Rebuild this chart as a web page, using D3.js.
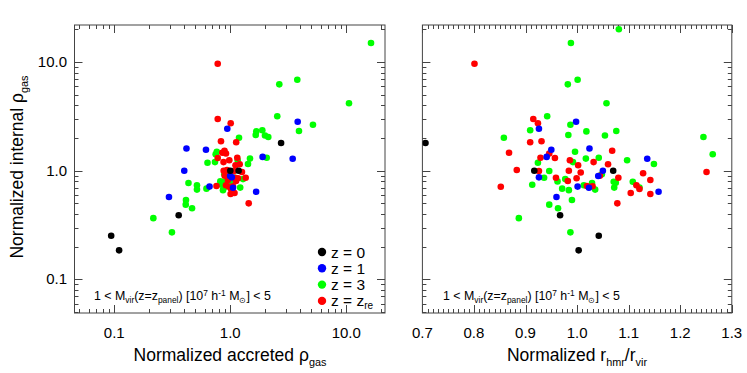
<!DOCTYPE html>
<html><head><meta charset="utf-8">
<script src="https://cdn.jsdelivr.net/npm/d3@7"></script>
<style>body{margin:0;background:#fff}svg{display:block}text{font-family:"Liberation Sans",Arial,Helvetica,sans-serif;fill:#000}</style>
</head><body>
<svg id="c" width="747" height="373"></svg>
<script>
// ---- data ----
const blackAccreted = [2.74, 1.0, 1.18, 0.359, 0.094, 0.110];
const blackInternal = [1.80, 1.0, 1.0, 0.389, 0.252, 0.185];
const blackRhmr     = [0.706, 0.917, 1.07, 0.967, 1.042, 1.003];

const blueAccreted = [3.81, 0.942, 0.419, 0.617, 1.90, 3.45, 0.401, 0.997, 1.03, 0.662, 1.055, 1.67, 0.296];
const blueInternal = [2.82, 2.43, 1.60, 1.56, 1.34, 1.29, 1.0, 0.894, 0.869, 0.714, 0.697, 0.641, 0.573];
const blueRhmr     = [0.998, 0.926, 1.024, 0.950, 0.941, 1.136, 1.050, 1.041, 0.926, 1.001, 1.023, 1.158, 0.960];

const greenAccreted = [25, 16.33, 3.78, 2.645, 10.55, 2.54, 5.16, 1.888, 3.91, 1.675, 1.656, 1.991, 2.126, 1.189, 0.765, 0.748, 2.06, 1.478, 1.158, 0.738, 0.636, 1.421, 1.055, 0.888, 1.098, 1.287, 0.820, 0.870, 0.969, 1.014, 0.436, 0.843, 0.516, 0.882, 1.217, 0.623, 0.516, 0.865, 0.415, 0.413, 0.468, 0.217, 0.314];
const greenInternal = [20.0, 14.96, 6.87, 6.23, 4.17, 3.17, 2.645, 2.353, 2.318, 2.299, 2.13, 2.108, 2.042, 2.012, 1.495, 1.415, 1.314, 1.292, 1.249, 1.2, 1.182, 1.152, 0.994, 0.929, 0.862, 0.837, 0.797, 0.792, 0.792, 0.775, 0.770, 0.743, 0.734, 0.699, 0.699, 0.684, 0.670, 0.662, 0.538, 0.487, 0.451, 0.366, 0.271];
const greenRhmr     = [1.081, 0.988, 1.001, 0.982, 1.057, 0.942, 0.987, 0.909, 1.076, 1.018, 0.983, 1.054, 1.245, 0.858, 0.996, 1.263, 1.042, 1.017, 1.097, 0.992, 0.924, 1.149, 0.946, 1.048, 0.936, 0.977, 0.962, 1.071, 1.108, 1.075, 1.029, 0.913, 1.013, 1.072, 1.121, 0.971, 1.035, 0.984, 0.990, 0.946, 0.963, 0.887, 0.987];

const redAccreted = [0.779, 0.779, 1.008, 0.831, 1.124, 0.891, 0.853, 0.918, 1.149, 0.779, 0.980, 0.874, 1.205, 1.109, 0.937, 0.877, 1.076, 1.26, 0.974, 0.913, 0.895, 1.091, 1.357, 1.165, 0.955, 1.12, 0.918, 0.760, 1.054, 0.974, 1.015, 1.087, 1.006, 1.441];
const redInternal = [9.65, 2.99, 2.73, 1.864, 1.825, 1.524, 1.464, 1.439, 1.317, 1.309, 1.246, 1.2, 1.148, 1.124, 1.015, 1.0, 0.994, 0.973, 0.963, 0.946, 0.899, 0.862, 0.860, 0.851, 0.821, 0.804, 0.734, 0.723, 0.719, 0.712, 0.679, 0.623, 0.610, 0.501];
const redRhmr     = [0.801, 0.915, 0.924, 0.931, 0.909, 1.068, 0.868, 0.946, 0.929, 0.957, 0.986, 1.032, 1.060, 1.002, 0.883, 0.984, 0.926, 1.251, 1.007, 1.128, 1.044, 0.959, 1.080, 0.999, 1.142, 0.982, 1.115, 1.019, 1.030, 0.852, 1.121, 1.104, 1.142, 1.078];

const logTickValues = [0.1, 1, 10];
const logTickLabels = ["0.1", "1.0", "10.0"];
const linTickValues = [0.7, 0.8, 0.9, 1.0, 1.1, 1.2, 1.3];
const linTickLabels = ["0.7", "0.8", "0.9", "1.0", "1.1", "1.2", "1.3"];
const legendLabels = ["0", "1", "3", "re"];
const seriesColors = ["#000000", "#0000ff", "#00ff00", "#ff0000"];

// ---- build ----
const series = [
  {acc: blackAccreted, int: blackInternal, r: blackRhmr, color: seriesColors[0]},
  {acc: blueAccreted, int: blueInternal, r: blueRhmr, color: seriesColors[1]},
  {acc: greenAccreted, int: greenInternal, r: greenRhmr, color: seriesColors[2]},
  {acc: redAccreted, int: redInternal, r: redRhmr, color: seriesColors[3]}
];
const drawOrder = [2, 3, 1, 0];

const svg = d3.select("#c");
const L = {x0: 74.5, x1: 385, y0: 25, y1: 313};
const R = {x0: 422.4, x1: 731.8, y0: 25, y1: 313};

const xL = d3.scaleLog().domain([Math.pow(10, (74.5 - 230.3) / 116), Math.pow(10, (385 - 230.3) / 116)]).range([L.x0, L.x1]);
const yS = d3.scaleLog().domain([Math.pow(10, (170.7 - 313) / 108.7), Math.pow(10, (170.7 - 25) / 108.7)]).range([L.y1, L.y0]);
const xR = d3.scaleLinear().domain([0.7, 1.3]).range([R.x0, R.x1]);

const defs = svg.append("defs");
defs.append("clipPath").attr("id", "clipL").append("rect").attr("x", L.x0).attr("y", L.y0).attr("width", L.x1 - L.x0).attr("height", L.y1 - L.y0);
defs.append("clipPath").attr("id", "clipR").append("rect").attr("x", R.x0).attr("y", R.y0).attr("width", R.x1 - R.x0).attr("height", R.y1 - R.y0);

const axisColor = "#444";
function logMinor(dom) {
  const out = [];
  for (let e = -3; e <= 3; e++) for (let m = 1; m <= 9; m++) {
    const v = m * Math.pow(10, e);
    if (v >= dom[0] && v <= dom[1]) out.push({v, major: m === 1});
  }
  return out;
}
function frame(P) {
  svg.append("rect").attr("x", P.x0).attr("y", P.y0).attr("width", P.x1 - P.x0).attr("height", P.y1 - P.y0)
    .attr("fill", "none").attr("stroke", axisColor).attr("stroke-width", 1);
}
function yTicks(P) {
  const g = svg.append("g").attr("stroke", axisColor).attr("stroke-width", 1);
  logMinor(yS.domain()).forEach(t => {
    const y = Math.round(yS(t.v)) + 0.5, len = t.major ? 8 : 4;
    g.append("line").attr("x1", P.x0).attr("x2", P.x0 + len).attr("y1", y).attr("y2", y);
    g.append("line").attr("x1", P.x1).attr("x2", P.x1 - len).attr("y1", y).attr("y2", y);
  });
}
frame(L); frame(R);
yTicks(L); yTicks(R);

// left x ticks (log)
{
  const g = svg.append("g").attr("stroke", axisColor).attr("stroke-width", 1);
  logMinor(xL.domain()).forEach(t => {
    const x = Math.round(xL(t.v)) + 0.5, len = t.major ? 8 : 4;
    g.append("line").attr("x1", x).attr("x2", x).attr("y1", L.y1).attr("y2", L.y1 - len);
    g.append("line").attr("x1", x).attr("x2", x).attr("y1", L.y0).attr("y2", L.y0 + len);
  });
}
// right x ticks (linear)
{
  const g = svg.append("g").attr("stroke", axisColor).attr("stroke-width", 1);
  d3.range(0, 61).forEach(i => {
    const v = 0.7 + i * 0.01;
    const x = Math.round(xR(v)) + 0.5, len = (i % 10 === 0) ? 8 : 4;
    g.append("line").attr("x1", x).attr("x2", x).attr("y1", R.y1).attr("y2", R.y1 - len);
    g.append("line").attr("x1", x).attr("x2", x).attr("y1", R.y0).attr("y2", R.y0 + len);
  });
}

// tick labels
const tickFont = 15;
logTickValues.forEach((v, i) => {
  svg.append("text").attr("x", xL(v)).attr("y", 338).attr("text-anchor", "middle").attr("font-size", tickFont).text(logTickLabels[i]);
  svg.append("text").attr("x", 67).attr("y", yS(v) + 5).attr("text-anchor", "end").attr("font-size", tickFont).text(logTickLabels[i]);
});
linTickValues.forEach((v, i) => {
  svg.append("text").attr("x", xR(v)).attr("y", 338).attr("text-anchor", "middle").attr("font-size", tickFont).text(linTickLabels[i]);
});

// axis titles
function titleWithSub(parent, parts, size) {
  const t = parent;
  parts.forEach(p => {
    const ts = t.append("tspan").text(p.t);
    if (p.sub) ts.attr("font-size", size * 0.62).attr("dy", size * 0.28);
    else if (p.after) ts.attr("dy", -size * 0.28);
  });
}
{
  const t = svg.append("text").attr("x", 230).attr("y", 361).attr("text-anchor", "middle").attr("font-size", 17.5);
  titleWithSub(t, [{t: "Normalized accreted \u03c1"}, {t: "gas", sub: true}], 17.5);
}
{
  const t = svg.append("text").attr("x", 577).attr("y", 361).attr("text-anchor", "middle").attr("font-size", 17.5);
  titleWithSub(t, [{t: "Normalized r"}, {t: "hmr", sub: true}, {t: "/r", after: true}, {t: "vir", sub: true}], 17.5);
}
{
  const t = svg.append("text").attr("transform", "translate(23,167) rotate(-90)").attr("text-anchor", "middle").attr("font-size", 17.5);
  titleWithSub(t, [{t: "Normalized internal \u03c1"}, {t: "gas", sub: true}], 17.5);
}

// annotation
function annot(x, y) {
  const s = 12.4, sub = 8.4;
  const t = svg.append("text").attr("x", x).attr("y", y).attr("font-size", s);
  t.append("tspan").text("1 < M");
  t.append("tspan").attr("font-size", sub).attr("dy", 2.8).text("vir");
  t.append("tspan").attr("dy", -2.8).text("(z=z");
  t.append("tspan").attr("font-size", sub).attr("dy", 2.8).text("panel");
  t.append("tspan").attr("dy", -2.8).text(") [10");
  t.append("tspan").attr("font-size", sub).attr("dy", -4.5).text("7");
  t.append("tspan").attr("dy", 4.5).text(" h");
  t.append("tspan").attr("font-size", sub).attr("dy", -4.5).text("-1");
  t.append("tspan").attr("dy", 4.5).text(" M");
  t.append("tspan").attr("font-size", sub).attr("dy", 2.8).text("\u2299");
  t.append("tspan").attr("dy", -2.8).text("] < 5");
}
annot(94, 300);
annot(443, 300);

// points
const rad = 3.3;
const gL = svg.append("g").attr("clip-path", "url(#clipL)");
const gR = svg.append("g").attr("clip-path", "url(#clipR)");
drawOrder.forEach(si => {
  const s = series[si];
  const pts = s.acc.map((a, i) => ({a, y: s.int[i], r: s.r[i]}));
  gL.selectAll(null).data(pts).enter().append("circle")
    .attr("cx", d => xL(d.a)).attr("cy", d => yS(d.y)).attr("r", rad).attr("fill", s.color);
  gR.selectAll(null).data(pts).enter().append("circle")
    .attr("cx", d => xR(d.r)).attr("cy", d => yS(d.y)).attr("r", rad).attr("fill", s.color);
});

// legend
legendLabels.forEach((lab, i) => {
  const y = 252 + i * 16.3;
  svg.append("circle").attr("cx", 322).attr("cy", y).attr("r", 4.2).attr("fill", seriesColors[i]);
  const t = svg.append("text").attr("x", 331).attr("y", y + 5.5).attr("font-size", 15.5);
  if (lab === "re") {
    t.append("tspan").text("z = z");
    t.append("tspan").attr("font-size", 10).attr("dy", 3).text("re");
  } else t.text("z = " + lab);
});
</script>
</body></html>
